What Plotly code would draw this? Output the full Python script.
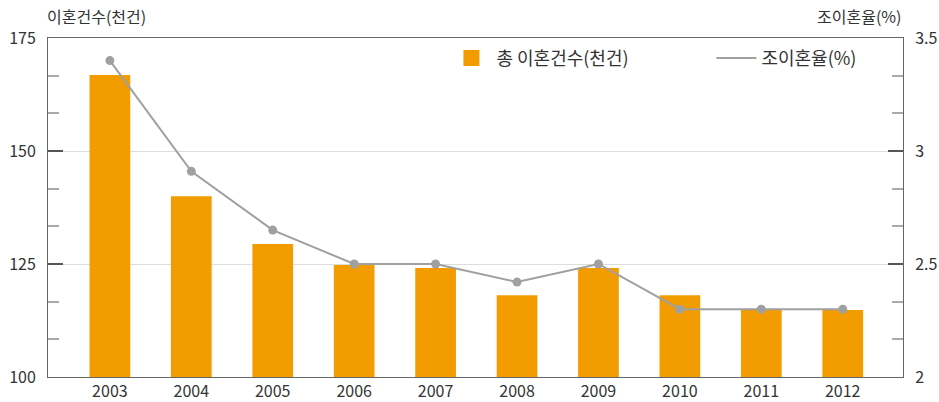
import plotly.graph_objects as go

years = ["2003", "2004", "2005", "2006", "2007", "2008", "2009", "2010", "2011", "2012"]
divorces = [166.8, 140.0, 129.4, 124.8, 124.1, 118.1, 124.1, 118.1, 114.8, 114.8]
rate = [3.40, 2.91, 2.65, 2.50, 2.50, 2.42, 2.50, 2.30, 2.30, 2.30]
left_ticks = [100, 125, 150, 175]
right_ticks = [2, 2.5, 3, 3.5]
right_labels = ["2", "2.5", "3", "3.5"]

xpos = list(range(len(years)))
FONT = "Noto Sans CJK KR"
TXT = "#333333"
ORANGE = "#F39C00"
GRAY = "#a0a0a0"

fig = go.Figure()
fig.add_trace(go.Bar(
    x=xpos, y=divorces, name="총 이혼건수(천건)", showlegend=False,
    marker=dict(color=ORANGE, line=dict(width=0)), width=0.5,
))
# legend entry for bars (larger square swatch)
fig.add_trace(go.Scatter(
    x=[None], y=[None], name="총 이혼건수(천건)", mode="markers",
    marker=dict(symbol="square", size=20, color=ORANGE),
))
fig.add_trace(go.Scatter(
    x=xpos, y=rate, name="조이혼율(%)", yaxis="y2", mode="lines",
    line=dict(color=GRAY, width=2),
))
fig.add_trace(go.Scatter(
    x=xpos, y=rate, name="조이혼율(%)", yaxis="y2", mode="markers", showlegend=False,
    marker=dict(color=GRAY, size=9),
))

fig.update_layout(
    width=939, height=402,
    margin=dict(l=48, r=36, t=38, b=25, autoexpand=False),
    plot_bgcolor="white", paper_bgcolor="white",
    font=dict(family=FONT, size=16, color=TXT),
    showlegend=True,
    legend=dict(orientation="h", x=0.466, y=0.995, xanchor="left", yanchor="top",
                bgcolor="rgba(0,0,0,0)", font=dict(size=18, color=TXT),
                entrywidth=210, entrywidthmode="pixels", itemwidth=40),
    xaxis=dict(range=[-0.76, 9.74], tickmode="array", tickvals=xpos, ticktext=years,
               showline=True, linecolor="#666666", linewidth=1, mirror=True,
               ticks="", showgrid=False, zeroline=False, automargin=False,
               tickfont=dict(size=16, color=TXT)),
    yaxis=dict(range=[100, 175], tickmode="array", tickvals=left_ticks,
               showline=True, linecolor="#666666", linewidth=1, automargin=False,
               ticks="inside", ticklen=15, tickwidth=2, tickcolor="#555555",
               showgrid=True, gridcolor="#dddddd", gridwidth=1, zeroline=False,
               minor=dict(dtick=25/3, tick0=100, ticks="inside", ticklen=11,
                          tickwidth=1.5, tickcolor="#aaaaaa", showgrid=False),
               tickfont=dict(size=16, color=TXT), ticklabelstandoff=8),
    yaxis2=dict(range=[2, 3.5], overlaying="y", side="right", tickmode="array",
                tickvals=right_ticks, ticktext=right_labels, automargin=False,
                showline=True, linecolor="#666666", linewidth=1,
                ticks="inside", ticklen=15, tickwidth=2, tickcolor="#555555",
                showgrid=False, zeroline=False,
                minor=dict(dtick=0.5/3, tick0=2, ticks="inside", ticklen=11,
                           tickwidth=1.5, tickcolor="#aaaaaa", showgrid=False),
                tickfont=dict(size=16, color=TXT), ticklabelstandoff=8),
    annotations=[
        dict(text="이혼건수(천건)", xref="paper", yref="paper", x=0, y=1.0,
             xshift=-3, yshift=22, xanchor="left", yanchor="middle", showarrow=False,
             font=dict(size=16, color=TXT)),
        dict(text="조이혼율(%)", xref="paper", yref="paper", x=1.0, y=1.0,
             yshift=22, xanchor="right", yanchor="middle", showarrow=False,
             font=dict(size=16, color=TXT)),
    ],
)

fig.write_html("out.html", config={"displayModeBar": False},
               post_script="document.body.style.margin='0';")
